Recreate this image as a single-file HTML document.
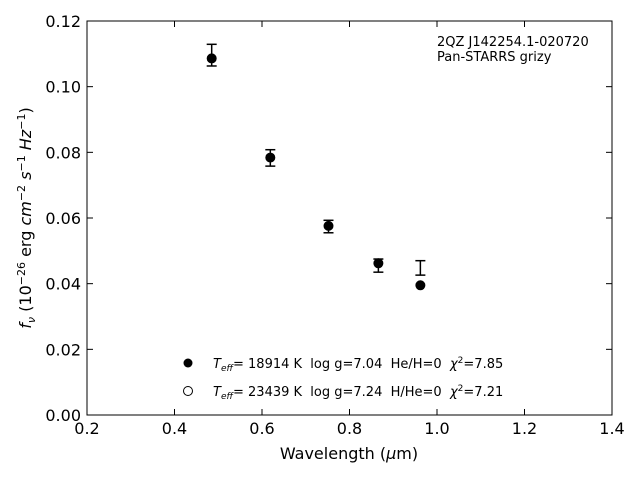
<!DOCTYPE html>
<html><head><meta charset="utf-8"><style>
body{margin:0;background:#fff}
svg{font-family:"DejaVu Sans","Liberation Sans",sans-serif}
text{white-space:pre}
</style></head><body>
<svg id="chart" width="640" height="480" viewBox="0 0 640 480">
<rect x="87" y="21" width="525" height="394" fill="none" stroke="#000" stroke-width="1"/>
<g id="ticks"></g>
<g id="marks"></g>
<text x="437" y="46" font-size="13">2QZ J142254.1-020720</text>
<text x="437" y="61" font-size="13">Pan-STARRS grizy</text>
<text x="349" y="459" font-size="16" text-anchor="middle">Wavelength (<tspan font-style="italic">μ</tspan>m)</text>
<text transform="translate(31,218) rotate(-90)" font-size="16" text-anchor="middle"><tspan font-style="italic">f</tspan><tspan font-style="italic" font-size="11" dy="4">ν</tspan><tspan dy="-4"> (10</tspan><tspan font-size="11" dy="-6">−26</tspan><tspan dy="6"> erg </tspan><tspan font-style="italic">cm</tspan><tspan font-size="11" dy="-6">−2</tspan><tspan dy="6"> </tspan><tspan font-style="italic">s</tspan><tspan font-size="11" dy="-6">−1</tspan><tspan dy="6"> </tspan><tspan font-style="italic">Hz</tspan><tspan font-size="11" dy="-6">−1</tspan><tspan dy="6">)</tspan></text>
<g>
<circle cx="188" cy="363" r="4.5" fill="#000"/>
<text x="213" y="368" font-size="13"><tspan font-style="italic">T</tspan><tspan font-style="italic" font-size="9" dy="3">eff</tspan><tspan dy="-3">= 18914 K  log g=7.04  He/H=0  </tspan><tspan font-style="italic">χ</tspan><tspan font-size="9" dy="-5">2</tspan><tspan dy="5">=7.85</tspan></text>
<circle cx="188" cy="391" r="4.5" fill="#fff" stroke="#000"/>
<text x="213" y="396" font-size="13"><tspan font-style="italic">T</tspan><tspan font-style="italic" font-size="9" dy="3">eff</tspan><tspan dy="-3">= 23439 K  log g=7.24  H/He=0  </tspan><tspan font-style="italic">χ</tspan><tspan font-size="9" dy="-5">2</tspan><tspan dy="5">=7.21</tspan></text>
</g>
</svg>
<script>
const wavelengths=[0.485,0.619,0.752,0.866,0.962];
const observedFlux=[0.1096,0.0783,0.0574,0.0455,0.0448];
const observedErr=[0.0033,0.0025,0.0019,0.0020,0.0022];
const modelHeFlux=[0.1086,0.0784,0.0576,0.0462,0.0395];
const modelHFlux=[0.1086,0.0784,0.0576,0.0462,0.0395];
const xTicks=[0.2,0.4,0.6,0.8,1.0,1.2,1.4];
const yTicks=[0.00,0.02,0.04,0.06,0.08,0.10,0.12];
const NS="http://www.w3.org/2000/svg";
const X=v=>87+(v-0.2)/1.2*525;
const Y=v=>415-v/0.12*394;
function mk(tag,attrs,parent){const e=document.createElementNS(NS,tag);for(const k in attrs)e.setAttribute(k,attrs[k]);parent.appendChild(e);return e;}
const tg=document.getElementById('ticks'),mg=document.getElementById('marks');
xTicks.forEach(t=>{const x=X(t);
const l=mk('line',{x1:x,x2:x,y1:415,y2:409,stroke:'#000'},tg);


const l2=mk('line',{x1:x,x2:x,y1:21,y2:27,stroke:'#000'},tg);


const tx=mk('text',{x:x,y:434,'font-size':16,'text-anchor':'middle'},tg);tx.textContent=t.toFixed(1);

});
yTicks.forEach(t=>{const y=Y(t);
const l=mk('line',{x1:87,x2:93,y1:y,y2:y,stroke:'#000'},tg);


const l2=mk('line',{x1:606,x2:612,y1:y,y2:y,stroke:'#000'},tg);


const tx=mk('text',{x:81,y:y+6,'font-size':16,'text-anchor':'end'},tg);tx.textContent=t.toFixed(2);

});
wavelengths.forEach((w,i)=>{const x=X(w);
const c=mk('circle',{cx:x,cy:Y(modelHFlux[i]),r:4.5,fill:'#fff',stroke:'#000'},mg);


const c2=mk('circle',{cx:x,cy:Y(modelHeFlux[i]),r:4.5,fill:'#000'},mg);


const top=Y(observedFlux[i]+observedErr[i]),bot=Y(observedFlux[i]-observedErr[i]);
const g=mk('g',{stroke:'#000','stroke-width':1.5},mg);


mk('line',{x1:x,x2:x,y1:top,y2:bot},g);
mk('line',{x1:x-5,x2:x+5,y1:top,y2:top},g);
mk('line',{x1:x-5,x2:x+5,y1:bot,y2:bot},g);});
</script>
</body></html>
